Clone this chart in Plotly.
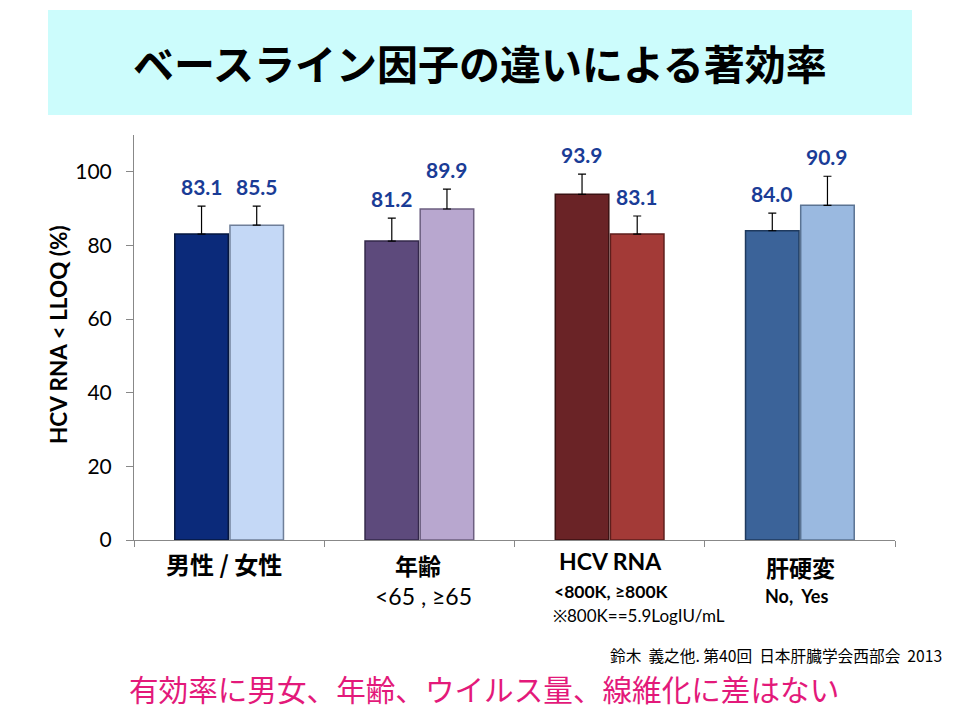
import plotly.graph_objects as go

# data
groups = ["男性 / 女性", "年齢", "HCV RNA", "肝硬変"]
left_values = [83.1, 81.2, 93.9, 84.0]
right_values = [85.5, 89.9, 83.1, 90.9]
left_errors = [7.6, 6.2, 5.5, 4.8]
right_errors = [5.2, 5.4, 4.9, 7.9]
left_colors = ["#0b2a7a", "#5d4a7c", "#6a2326", "#3b6399"]
right_colors = ["#c4d8f6", "#b8a7cf", "#a33a37", "#9ab9e0"]
left_edges = ["#06173f", "#33284a", "#3a1112", "#1f3a5e"]
right_edges = ["#6f7f99", "#6c5f80", "#5e1e1c", "#5a7392"]
y_ticks = [0, 20, 40, 60, 80, 100]

title_text = "ベースライン因子の違いによる著効率"
y_title = "HCV RNA < LLOQ (%)"
citation = "鈴木  義之他. 第40回  日本肝臓学会西部会  2013"
conclusion = "有効率に男女、年齢、ウイルス量、線維化に差はない"

JP = "Noto Sans CJK JP"
LAT = "Lato, 'Open Sans', sans-serif"
VAL_BLUE = "#1a3c96"

# plot area in pixels, used to place slide decorations in paper units
L, R, T, B = 134, 895, 135, 540


def px(x):
    return (x - L) / (R - L)


def py(y):
    return (B - y) / (B - T)


centers = [i + 0.5 for i in range(len(groups))]

fig = go.Figure()
fig.add_trace(
    go.Bar(
        x=centers,
        y=left_values,
        marker=dict(color=left_colors, line=dict(color=left_edges, width=1.5)),
        error_y=dict(type="data", symmetric=False, array=left_errors,
                     arrayminus=[0] * 4, color="black", thickness=1.2, width=4),
        showlegend=False,
        hoverinfo="y",
    )
)
fig.add_trace(
    go.Bar(
        x=centers,
        y=right_values,
        marker=dict(color=right_colors, line=dict(color=right_edges, width=1.5)),
        error_y=dict(type="data", symmetric=False, array=right_errors,
                     arrayminus=[0] * 4, color="black", thickness=1.2, width=4),
        showlegend=False,
        hoverinfo="y",
    )
)

annotations = []
bar_offset = 0.145
for c, v, e in zip(centers, left_values, left_errors):
    annotations.append(dict(x=c - bar_offset, y=v + e, xref="x", yref="y",
                            text=f"<b>{v:.1f}</b>", showarrow=False,
                            xanchor="center", yanchor="bottom", yshift=5,
                            font=dict(family=LAT, size=21, color=VAL_BLUE)))
for c, v, e in zip(centers, right_values, right_errors):
    annotations.append(dict(x=c + bar_offset, y=v + e, xref="x", yref="y",
                            text=f"<b>{v:.1f}</b>", showarrow=False,
                            xanchor="center", yanchor="bottom", yshift=5,
                            font=dict(family=LAT, size=21, color=VAL_BLUE)))

# category labels under the axis
cat_labels = [
    ("<b>男性 / 女性</b>", 224, 563, 24, JP, "center"),
    ("<b>年齢</b>", 418, 565, 23, JP, "center"),
    ("<65 , ≥65", 423, 596, 23, LAT, "center"),
    ("<b>HCV RNA</b>", 610, 561, 23, LAT, "center"),
    ("<b><800K, ≥800K</b>", 552, 591, 17.5, LAT, "left"),
    ("※800K==5.9LogIU/mL", 551, 615, 17, LAT, "left"),
    ("<b>肝硬変</b>", 800, 567, 23, JP, "center"),
    ("<b>No,  Yes</b>", 763, 596, 18, LAT, "left"),
]
for text, x, y, size, fam, anchor in cat_labels:
    annotations.append(dict(x=px(x), y=py(y), xref="paper", yref="paper",
                            text=text, showarrow=False, xanchor=anchor,
                            yanchor="middle",
                            font=dict(family=fam, size=size, color="black")))

annotations += [
    dict(x=px(480), y=py(62), xref="paper", yref="paper",
         xanchor="center", yanchor="middle",
         text=f"<b>{title_text}</b>", showarrow=False,
         font=dict(family=JP, size=41, color="black")),
    dict(x=px(58), y=py(335), xref="paper", yref="paper",
         xanchor="center", yanchor="middle",
         text=f"<b>{y_title}</b>", showarrow=False, textangle=-90,
         font=dict(family=LAT, size=22.5, color="black")),
    dict(x=px(608), y=py(655), xref="paper", yref="paper",
         xanchor="left", yanchor="middle",
         text=citation, showarrow=False,
         font=dict(family=JP, size=15.7, color="black")),
    dict(x=px(484), y=py(688), xref="paper", yref="paper",
         xanchor="center", yanchor="middle",
         text=conclusion, showarrow=False,
         font=dict(family=JP, size=29.6, color="#e3197a")),
]

fig.update_layout(
    width=960,
    height=720,
    margin=dict(l=L, r=960 - R, t=T, b=720 - B),
    paper_bgcolor="white",
    plot_bgcolor="white",
    barmode="group",
    bargap=0.42,
    bargroupgap=0.03,
    annotations=annotations,
    shapes=[
        dict(type="rect", xref="paper", yref="paper", layer="below",
             x0=px(48), x1=px(912), y0=py(115), y1=py(10),
             fillcolor="#ccfcfc", line=dict(width=0)),
    ],
    xaxis=dict(
        range=[0, 4],
        tickvals=[0, 1, 2, 3, 4],
        ticktext=[""] * 5,
        ticks="outside",
        ticklen=6,
        tickcolor="#888888",
        showline=True,
        linecolor="#888888",
        linewidth=1,
        showgrid=False,
        zeroline=False,
        fixedrange=True,
    ),
    yaxis=dict(
        range=[0, 110],
        tickvals=y_ticks,
        ticks="outside",
        ticklen=7,
        tickcolor="#888888",
        ticklabelstandoff=10,
        showline=True,
        linecolor="#888888",
        linewidth=1,
        showgrid=False,
        zeroline=False,
        tickfont=dict(family=LAT, size=21, color="black"),
        fixedrange=True,
    ),
)

# drop the browser's default body margin so the slide sits at the window corner
fig.write_html("out.html", config={"displayModeBar": False},
               post_script="document.body.style.margin = '0';")
